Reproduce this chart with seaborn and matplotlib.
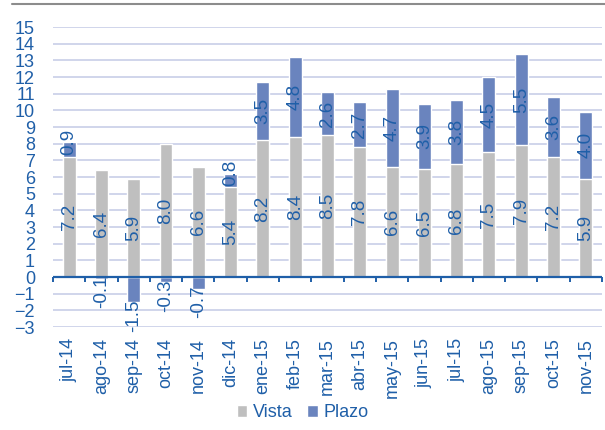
import numpy as np
import pandas as pd
import seaborn as sns
import matplotlib.pyplot as plt
from matplotlib.patches import Patch
from matplotlib.lines import Line2D

# Datos
meses = ["jul-14", "ago-14", "sep-14", "oct-14", "nov-14", "dic-14", "ene-15", "feb-15",
         "mar-15", "abr-15", "may-15", "jun-15", "jul-15", "ago-15", "sep-15", "oct-15", "nov-15"]
vista = [7.2, 6.4, 5.9, 8.0, 6.6, 5.4, 8.2, 8.4, 8.5, 7.8, 6.6, 6.5, 6.8, 7.5, 7.9, 7.2, 5.9]
plazo = [0.9, -0.1, -1.5, -0.3, -0.7, 0.8, 3.5, 4.8, 2.6, 2.7, 4.7, 3.9, 3.8, 4.5, 5.5, 3.6, 4.0]

azul_txt = "#1F5FA8"
gris = "#BFBFBF"
azul = "#6A84BE"

sns.set_style("white")
plt.rcParams["font.family"] = ["Liberation Sans", "DejaVu Sans"]

df = pd.DataFrame({"Mes": meses, "Vista": vista, "Plazo": plazo})
# altura de la barra azul (apilada sobre vista si es positiva)
df["Tope"] = np.where(df["Plazo"] > 0, df["Vista"] + df["Plazo"], df["Plazo"])

fig = plt.figure(figsize=(6.05, 4.3), dpi=100)
ax = fig.add_axes([0.0876, 0.2395, 0.9074, 0.6975])

sns.barplot(data=df, x="Mes", y="Tope", color=azul, width=0.4, saturation=1, ax=ax, zorder=3)
sns.barplot(data=df, x="Mes", y="Vista", color=gris, width=0.4, saturation=1, ax=ax, zorder=3)

ax.set_ylim(-3, 15)
ax.set_xlim(-0.5, len(meses) - 0.5)
ax.set_yticks(range(-3, 16))
ax.grid(axis="y", color="#C8CEE8", linewidth=1.2, zorder=0)
ax.set_axisbelow(True)
for s in ax.spines.values():
    s.set_visible(False)

# eje en cero con marcas entre categorías
ax.axhline(0, color=azul_txt, linewidth=1.6, zorder=4)
ax.vlines(np.arange(-0.5, len(meses)), 0, -0.28, color=azul_txt, linewidth=1.4, zorder=4,
          clip_on=False)

ax.tick_params(axis="y", length=0, pad=13, labelsize=13, labelcolor=azul_txt)
ax.tick_params(axis="x", length=0, pad=8, labelsize=13, labelcolor=azul_txt)
plt.setp(ax.get_xticklabels(), rotation=90, va="top", ha="center")
ax.set_xlabel("")
ax.set_ylabel("")

# etiquetas de valores
fs = 13.5
for i, (v, p) in enumerate(zip(vista, plazo)):
    ax.text(i, v / 2, f"{v:.1f}", rotation=90, ha="center", va="center",
            fontsize=fs, color=azul_txt, zorder=5)
    if p > 0:
        yp = v + p / 2 + (0.45 if p < 1 else 0)
        ax.text(i, yp, f"{p:.1f}", rotation=90, ha="center", va="center",
                fontsize=fs, color=azul_txt, zorder=5)
    else:
        ax.text(i, p - 0.8, f"{p:.1f}", rotation=90, ha="center", va="center",
                fontsize=fs, color=azul_txt, zorder=5)

# leyenda
handles = [Patch(facecolor=gris, label="Vista"), Patch(facecolor=azul, label="Plazo")]
leg = fig.legend(handles=handles, loc="center", bbox_to_anchor=(0.5, 0.04), ncol=2,
                 frameon=False, fontsize=13, handlelength=0.6, handleheight=0.6,
                 handletextpad=0.3, columnspacing=0.8)
for t in leg.get_texts():
    t.set_color(azul_txt)

# línea superior (borde de la cabecera)
fig.add_artist(Line2D([0.02, 1.0], [0.99, 0.99], color="#8C8C8C", linewidth=1.5))

fig.savefig("out.png", dpi=100)
